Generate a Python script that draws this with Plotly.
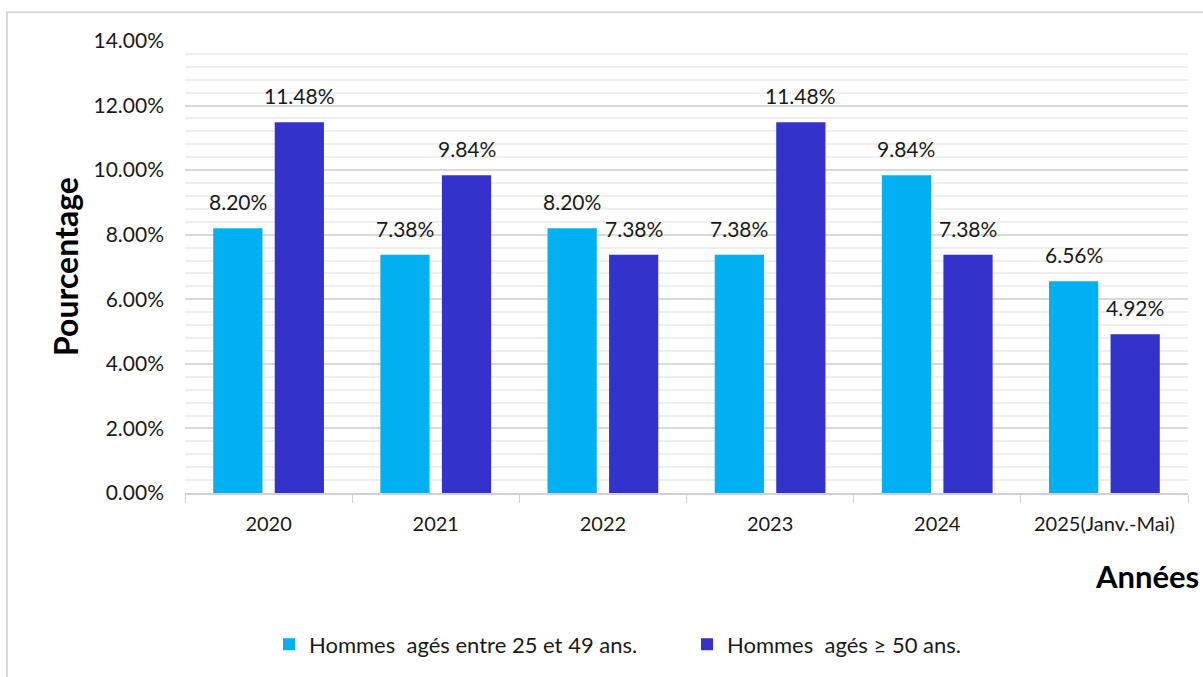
import plotly.graph_objects as go

# Chart data
years = ["2020", "2021", "2022", "2023", "2024", "2025(Janv.-Mai)"]
hommes_25_49 = [0.0820, 0.0738, 0.0820, 0.0738, 0.0984, 0.0656]
hommes_50_plus = [0.1148, 0.0984, 0.0738, 0.1148, 0.0738, 0.0492]
series_names = ["Hommes\u00a0 agés entre 25 et 49 ans.", "Hommes\u00a0 agés ≥ 50 ans."]
series_colors = ["#00B0F0", "#3333CC"]
y_ticks = [0, 0.02, 0.04, 0.06, 0.08, 0.10, 0.12, 0.14]

FONT = "Lato"
TXT = "#1a1a1a"
W, H = 1203, 677
L, R, T, B = 185, 15, 41, 182
BARGAP = 0.264

fig = go.Figure()
for name, vals, col in zip(series_names, [hommes_25_49, hommes_50_plus], series_colors):
    fig.add_trace(go.Bar(x=years, y=vals, name=name, marker_color=col,
                         marker_line_width=0))

plot_w = W - L - R
plot_h = H - T - B

# value labels above each bar (x given as category index)
slot_px = plot_w / len(years) * (1 - BARGAP) / 2
for i, vals in enumerate([hommes_25_49, hommes_50_plus]):
    shift = (-0.5 if i == 0 else 0.5) * slot_px
    for k, v in enumerate(vals):
        fig.add_annotation(x=k, y=v, text=f"{v*100:.2f}%", showarrow=False,
                           xshift=shift, yshift=12, yanchor="bottom",
                           font=dict(family=FONT, size=21, color=TXT))

# outer chart frame (right and bottom edges run off the page)
fig.add_shape(type="rect", xref="paper", yref="paper",
              x0=(7 - L) / plot_w, x1=(W + 20 - L) / plot_w,
              y0=(H - B - (H + 20)) / plot_h, y1=(H - B - 12) / plot_h,
              line=dict(color="#d9d9d9", width=2), fillcolor="rgba(0,0,0,0)", layer="below")

# axis titles
fig.add_annotation(xref="paper", yref="paper", x=(65 - L) / plot_w, y=(H - B - 268) / plot_h,
                   xanchor="center", yanchor="middle",
                   text="<b>Pourcentage</b>", textangle=-90, showarrow=False,
                   font=dict(family=FONT, size=32, color="#000000"))
fig.add_annotation(xref="paper", yref="paper", x=(1201 - L) / plot_w, y=(H - B - 578) / plot_h,
                   xanchor="right", yanchor="middle", text="<b>Années</b>", showarrow=False,
                   font=dict(family=FONT, size=31, color="#000000"))

fig.update_layout(
    width=W, height=H,
    margin=dict(l=L, r=R, t=T, b=B),
    paper_bgcolor="white", plot_bgcolor="white",
    barmode="group", bargap=BARGAP, bargroupgap=0.2,
    font=dict(family=FONT, size=20, color=TXT),
    legend=dict(orientation="h", x=(309 - 40 - L) / plot_w, xanchor="left",
                y=(H - B - 647) / plot_h, yanchor="middle",
                font=dict(family=FONT, size=22, color=TXT),
                entrywidth=373, entrywidthmode="pixels", itemclick=False),
    xaxis=dict(type="category", range=[-0.5, len(years) - 0.5], showline=True,
               linecolor="#d0d0d0", linewidth=2,
               ticks="outside", tickson="boundaries", ticklen=8, tickcolor="#d0d0d0",
               ticklabelstandoff=12,
               tickfont=dict(family=FONT, size=20, color=TXT), showgrid=False),
    yaxis=dict(range=[0, 0.14], tickvals=y_ticks, tickformat=".2%",
               tickfont=dict(family=FONT, size=21, color=TXT), ticklabelstandoff=20,
               showgrid=True, gridcolor="#d9d9d9", gridwidth=1.5, zeroline=False,
               ticks="", showline=False,
               minor=dict(dtick=0.004, showgrid=True, gridcolor="#efefef", gridwidth=1.5)),
)

fig.write_html("out.html")
